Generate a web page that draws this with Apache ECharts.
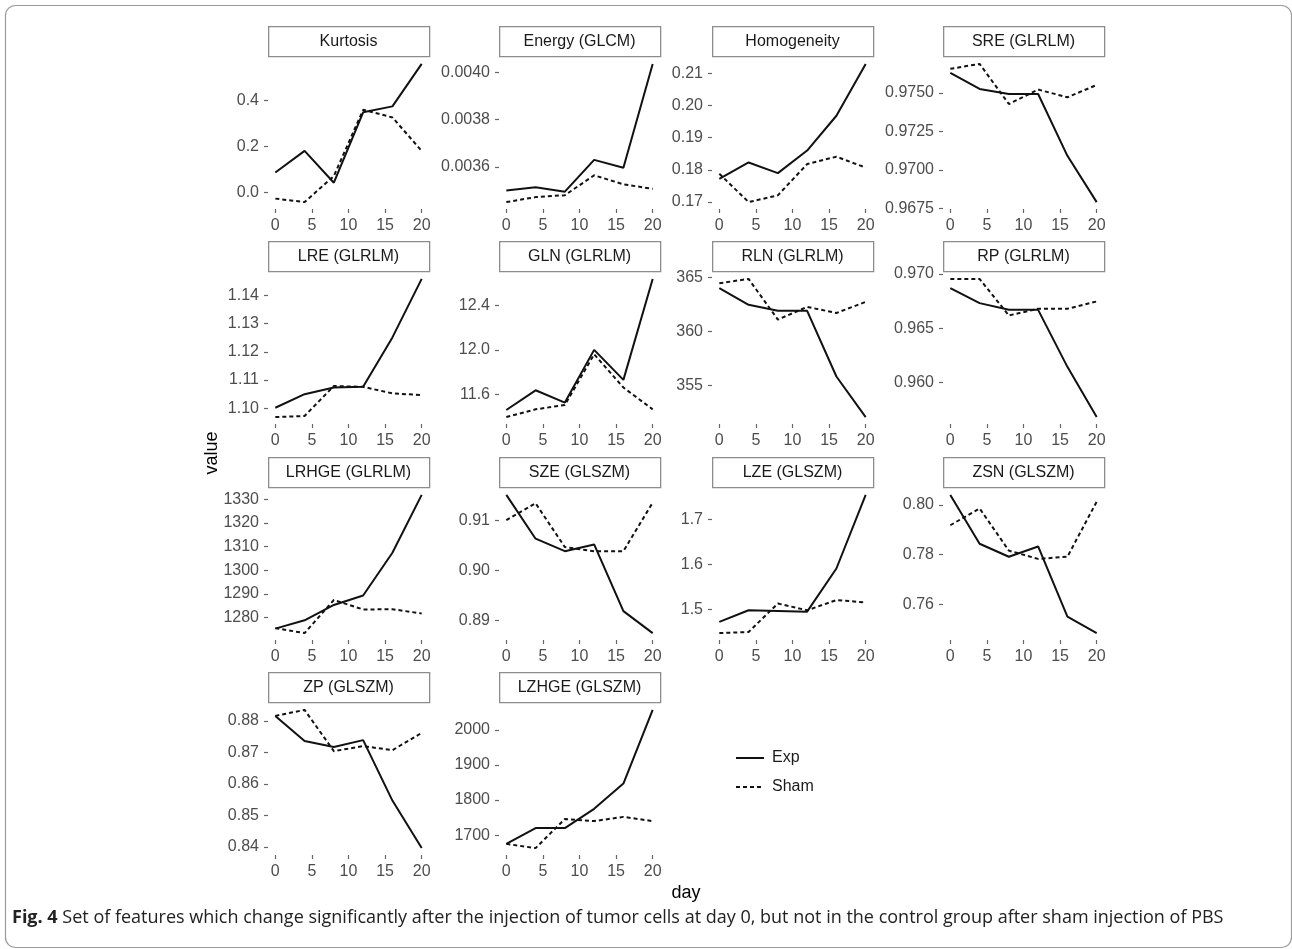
<!DOCTYPE html>
<html>
<head>
<meta charset="utf-8">
<script src="https://cdn.jsdelivr.net/npm/echarts@6/dist/echarts.min.js"></script>
<style>
  html, body { margin: 0; padding: 0; background: #ffffff; }
  #chart { width: 1292px; height: 949px; }
</style>
</head>
<body>
<div id="chart"></div>
<script>
// ---------- data ----------
const days = [0, 4, 8, 12, 16, 20];
const xTicks = [0, 5, 10, 15, 20];

const titles = ['Kurtosis', 'Energy (GLCM)', 'Homogeneity', 'SRE (GLRLM)',
  'LRE (GLRLM)', 'GLN (GLRLM)', 'RLN (GLRLM)', 'RP (GLRLM)',
  'LRHGE (GLRLM)', 'SZE (GLSZM)', 'LZE (GLSZM)', 'ZSN (GLSZM)',
  'ZP (GLSZM)', 'LZHGE (GLSZM)'];

const kurtosisExp = [0.087, 0.181, 0.043, 0.348, 0.374, 0.558];
const kurtosisSham = [-0.026, -0.041, 0.072, 0.359, 0.326, 0.181];
const energyExp = [0.003501, 0.003515, 0.003496, 0.003630, 0.003597, 0.004035];
const energySham = [0.003452, 0.003473, 0.003481, 0.003565, 0.003527, 0.003508];
const homogeneityExp = [0.1772, 0.1823, 0.1790, 0.1860, 0.1968, 0.2129];
const homogeneitySham = [0.1788, 0.1700, 0.1721, 0.1818, 0.1841, 0.1807];
const sreExp = [0.97630, 0.97526, 0.97493, 0.97493, 0.97091, 0.96790];
const sreSham = [0.97657, 0.97689, 0.97428, 0.97522, 0.97472, 0.97552];
const lreExp = [1.1002, 1.1050, 1.1074, 1.1076, 1.1251, 1.1458];
const lreSham = [1.0969, 1.0973, 1.1079, 1.1076, 1.1053, 1.1047];
const glnExp = [11.458, 11.636, 11.525, 12.001, 11.730, 12.642];
const glnSham = [11.394, 11.464, 11.503, 11.962, 11.661, 11.464];
const rlnExp = [364.0, 362.45, 361.9, 361.9, 355.84, 352.1];
const rlnSham = [364.44, 364.84, 361.09, 362.26, 361.7, 362.72];
const rpExp = [0.96870, 0.96731, 0.96669, 0.96669, 0.96144, 0.95681];
const rpSham = [0.96954, 0.96954, 0.96617, 0.96679, 0.96679, 0.96746];
const lrhgeExp = [1275.3, 1278.8, 1285.3, 1289.3, 1307.4, 1331.9];
const lrhgeSham = [1275.5, 1273.4, 1287.4, 1283.4, 1283.5, 1281.7];
const szeExp = [0.91503, 0.90631, 0.90382, 0.90517, 0.89188, 0.88751];
const szeSham = [0.9100, 0.91336, 0.90463, 0.90382, 0.90382, 0.91349];
const lzeExp = [1.472, 1.4977, 1.4962, 1.4946, 1.5905, 1.754];
const lzeSham = [1.447, 1.4494, 1.5127, 1.4977, 1.5204, 1.515];
const zsnExp = [0.80407, 0.78442, 0.77919, 0.78332, 0.75512, 0.74845];
const zsnSham = [0.79186, 0.79864, 0.78163, 0.77831, 0.77919, 0.80134];
const zpExp = [0.8816, 0.8736, 0.8717, 0.8739, 0.8547, 0.8396];
const zpSham = [0.8816, 0.8835, 0.8704, 0.8720, 0.8707, 0.8762];
const lzhgeExp = [1675, 1720, 1720, 1775, 1847, 2057];
const lzhgeSham = [1675, 1663, 1746, 1740, 1752, 1740];

const expSeries = [kurtosisExp, energyExp, homogeneityExp, sreExp, lreExp, glnExp, rlnExp, rpExp,
  lrhgeExp, szeExp, lzeExp, zsnExp, zpExp, lzhgeExp];
const shamSeries = [kurtosisSham, energySham, homogeneitySham, sreSham, lreSham, glnSham, rlnSham, rpSham,
  lrhgeSham, szeSham, lzeSham, zsnSham, zpSham, lzhgeSham];

const yTicks = [
  [0, 0.2, 0.4],
  [0.0036, 0.0038, 0.0040],
  [0.17, 0.18, 0.19, 0.20, 0.21],
  [0.9675, 0.9700, 0.9725, 0.9750],
  [1.10, 1.11, 1.12, 1.13, 1.14],
  [11.6, 12.0, 12.4],
  [355, 360, 365],
  [0.960, 0.965, 0.970],
  [1280, 1290, 1300, 1310, 1320, 1330],
  [0.89, 0.90, 0.91],
  [1.5, 1.6, 1.7],
  [0.76, 0.78, 0.80],
  [0.84, 0.85, 0.86, 0.87, 0.88],
  [1700, 1800, 1900, 2000]
];
const yDecimals = [1, 4, 2, 4, 2, 1, 0, 3, 0, 2, 1, 2, 2, 0];

const seriesNames = ['Exp', 'Sham'];

// ---------- layout ----------
const colX = [268, 499, 712, 943];
const rowY = [26, 241, 457, 672];
const panelW = 161, stripH = 31, panelH = 152;

const grids = [], xAxes = [], yAxes = [], series = [], graphics = [];
const tickColor = '#4d4d4d';
const font = 'Liberation Sans';

titles.forEach((t, i) => {
  const r = Math.floor(i / 4), c = i % 4;
  const left = colX[c], top = rowY[r] + stripH;
  grids.push({ left: left, top: top, width: panelW, height: panelH, containLabel: false });
  xAxes.push({
    type: 'value', gridIndex: i, min: -1, max: 21,
    axisLine: { show: false, onZero: false },
    splitLine: { show: false },
    axisTick: { show: true, length: 4, customValues: xTicks, lineStyle: { color: '#666', width: 1.2 } },
    axisLabel: { customValues: xTicks, color: tickColor, fontSize: 16, fontFamily: font, margin: 9 }
  });
  const all = expSeries[i].concat(shamSeries[i]);
  const dmin = Math.min.apply(null, all), dmax = Math.max.apply(null, all);
  const pad = (dmax - dmin) * 0.05;
  const dec = yDecimals[i];
  yAxes.push({
    type: 'value', gridIndex: i, min: dmin - pad, max: dmax + pad, scale: true,
    axisLine: { show: false, onZero: false },
    splitLine: { show: false },
    axisTick: { show: true, length: 4, customValues: yTicks[i], lineStyle: { color: '#666', width: 1.2 } },
    axisLabel: { customValues: yTicks[i], color: tickColor, fontSize: 16, fontFamily: font, margin: 9,
      formatter: v => Number(v).toFixed(dec) }
  });
  series.push({
    name: 'Exp', type: 'line', xAxisIndex: i, yAxisIndex: i, symbol: 'none', silent: true,
    data: days.map((d, k) => [d, expSeries[i][k]]),
    lineStyle: { color: '#111', width: 2, type: 'solid' }, itemStyle: { color: '#111' }
  });
  series.push({
    name: 'Sham', type: 'line', xAxisIndex: i, yAxisIndex: i, symbol: 'none', silent: true,
    data: days.map((d, k) => [d, shamSeries[i][k]]),
    lineStyle: { color: '#111', width: 2, type: [4, 3] }, itemStyle: { color: '#111' }
  });
  // strip
  graphics.push({
    type: 'rect', left: left, top: rowY[r], silent: true,
    shape: { width: panelW, height: stripH - 1 },
    style: { fill: '#fff', stroke: '#8c8c8c', lineWidth: 1.3 }
  });
  graphics.push({
    type: 'text', x: left + panelW / 2, y: rowY[r] + stripH / 2, silent: true,
    style: { text: t, fill: '#1a1a1a', font: "16px 'Liberation Sans'", textAlign: 'center', textVerticalAlign: 'middle' }
  });
});

// axis titles
graphics.push({
  type: 'text', x: 212, y: 453, rotation: Math.PI / 2, silent: true,
  style: { text: 'value', fill: '#000', font: "18px 'Liberation Sans'", textAlign: 'center', textVerticalAlign: 'middle' }
});
graphics.push({
  type: 'text', x: 686, y: 893, silent: true,
  style: { text: 'day', fill: '#000', font: "18px 'Liberation Sans'", textAlign: 'center', textVerticalAlign: 'middle' }
});
// outer frame
graphics.push({
  type: 'rect', left: 3, top: 3, silent: true, z: -1,
  shape: { width: 1286, height: 942, r: 10 },
  style: { fill: 'none', stroke: '#9a9a9a', lineWidth: 1.2 }
});
// caption
graphics.push({
  type: 'text', x: 12, y: 918, silent: true,
  style: {
    text: '{b|Fig. 4} Set of features which change significantly after the injection of tumor cells at day 0, but not in the control group after sham injection of PBS',
    fill: '#222', font: "18px 'Open Sans', sans-serif", textVerticalAlign: 'middle',
    rich: { b: { fontWeight: 'bold', fontSize: 18, fontFamily: 'Open Sans', fill: '#222' } }
  }
});

const chart = echarts.init(document.getElementById('chart'), null, { renderer: 'canvas' });
chart.setOption({
  animation: false,
  backgroundColor: '#ffffff',
  grid: grids,
  xAxis: xAxes,
  yAxis: yAxes,
  series: series,
  legend: {
    data: seriesNames, orient: 'vertical', left: 735, top: 750, padding: 0,
    itemWidth: 28, itemHeight: 14, itemGap: 13,
    itemStyle: { color: 'rgba(0,0,0,0)', borderWidth: 0, opacity: 0 },
    textStyle: { fontSize: 16, color: '#1a1a1a', fontFamily: font, padding: [0, 0, 0, 3] }
  },
  graphic: graphics
});
</script>
</body>
</html>
